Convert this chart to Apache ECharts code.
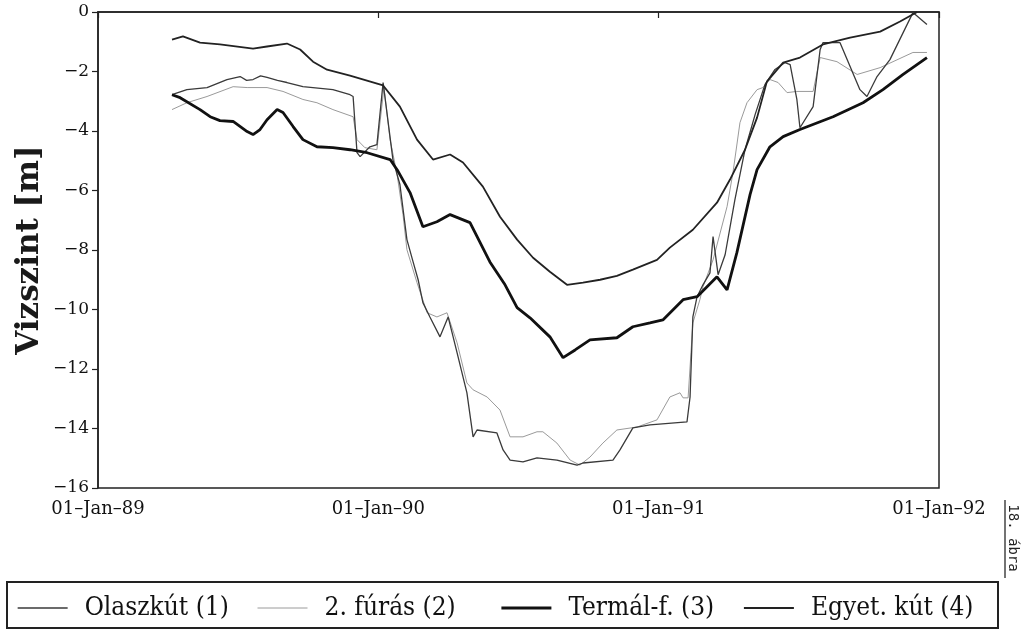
<!DOCTYPE html>
<html>
<head>
<meta charset="utf-8">
<script src="https://cdn.jsdelivr.net/npm/echarts@6/dist/echarts.min.js"></script>
<style>
  html, body { margin: 0; padding: 0; background: #fff; }
  #chart { width: 1028px; height: 641px; }
</style>
</head>
<body>
<div id="chart"></div>
<script>
// Water level records: [decimal year, level (m)]
const olaszkut = [
  [1989.264,-2.78],[1989.317,-2.61],[1989.389,-2.54],[1989.460,-2.27],[1989.507,-2.17],[1989.530,-2.30],
  [1989.553,-2.27],[1989.580,-2.15],[1989.603,-2.20],[1989.640,-2.30],[1989.674,-2.37],[1989.731,-2.51],
  [1989.838,-2.61],[1989.899,-2.78],[1989.910,-2.84],
  [1989.924,-4.73],[1989.935,-4.86],[1989.970,-4.53],[1989.995,-4.46],[1990.017,-2.37],[1990.052,-4.96],
  [1990.077,-5.80],[1990.102,-7.65],[1990.124,-8.40],[1990.142,-9.00],[1990.159,-9.77],[1990.184,-10.25],
  [1990.220,-10.92],[1990.249,-10.25],[1990.281,-11.46],[1990.316,-12.80],[1990.338,-14.28],[1990.352,-14.05],
  [1990.423,-14.15],[1990.445,-14.72],[1990.470,-15.06],[1990.516,-15.12],[1990.566,-14.99],[1990.637,-15.06],
  [1990.709,-15.23],[1990.730,-15.16],[1990.837,-15.06],[1990.862,-14.72],[1990.908,-13.98],[1990.969,-13.88],
  [1991.101,-13.78],[1991.112,-12.94],[1991.122,-10.25],[1991.137,-9.57],[1991.158,-9.17],[1991.183,-8.77],
  [1991.194,-7.55],[1991.212,-8.83],[1991.237,-8.16],[1991.272,-6.31],[1991.308,-4.63],[1991.344,-3.45],
  [1991.379,-2.44],[1991.415,-1.93],[1991.451,-1.70],[1991.469,-1.77],[1991.493,-2.94],[1991.504,-3.89],
  [1991.551,-3.18],[1991.576,-1.26],[1991.586,-1.03],[1991.647,-1.03],[1991.718,-2.61],[1991.743,-2.84],
  [1991.779,-2.17],[1991.825,-1.60],[1991.907,-0.02],[1991.957,-0.42]
];

const furas2 = [
  [1989.264,-3.28],[1989.317,-3.05],[1989.389,-2.84],[1989.482,-2.51],[1989.532,-2.54],[1989.603,-2.54],
  [1989.660,-2.67],[1989.731,-2.94],[1989.781,-3.05],[1989.838,-3.28],[1989.910,-3.52],[1989.924,-4.29],
  [1989.952,-4.56],[1989.995,-4.63],[1990.020,-2.54],[1990.042,-4.29],[1990.067,-5.47],[1990.088,-6.81],
  [1990.102,-7.99],[1990.138,-9.10],[1990.174,-10.11],[1990.209,-10.25],[1990.245,-10.11],[1990.281,-11.12],
  [1990.316,-12.47],[1990.338,-12.70],[1990.388,-12.94],[1990.434,-13.38],[1990.470,-14.28],[1990.516,-14.28],
  [1990.566,-14.11],[1990.587,-14.11],[1990.637,-14.49],[1990.684,-15.06],[1990.719,-15.23],[1990.755,-14.96],
  [1990.801,-14.49],[1990.851,-14.05],[1990.923,-13.95],[1990.994,-13.71],[1991.040,-12.94],[1991.076,-12.80],
  [1991.087,-12.97],[1991.105,-12.97],[1991.122,-10.45],[1991.147,-9.67],[1991.158,-9.24],[1991.194,-8.33],
  [1991.244,-6.54],[1991.265,-5.40],[1991.290,-3.72],[1991.315,-3.05],[1991.351,-2.61],[1991.372,-2.54],
  [1991.397,-2.27],[1991.426,-2.37],[1991.458,-2.71],[1991.493,-2.67],[1991.551,-2.67],[1991.576,-1.53],
  [1991.636,-1.67],[1991.708,-2.10],[1991.790,-1.87],[1991.907,-1.36],[1991.957,-1.36]
];

const termal = [
  [1989.264,-2.78],[1989.293,-2.88],[1989.364,-3.28],[1989.400,-3.52],[1989.435,-3.65],[1989.482,-3.68],
  [1989.532,-4.02],[1989.553,-4.12],[1989.578,-3.95],[1989.603,-3.62],[1989.639,-3.28],[1989.660,-3.38],
  [1989.696,-3.85],[1989.731,-4.29],[1989.781,-4.53],[1989.838,-4.56],[1989.899,-4.63],[1989.960,-4.73],
  [1990.042,-4.96],[1990.067,-5.30],[1990.113,-6.07],[1990.159,-7.22],[1990.209,-7.05],[1990.256,-6.81],
  [1990.327,-7.08],[1990.398,-8.40],[1990.452,-9.17],[1990.495,-9.94],[1990.541,-10.28],[1990.612,-10.92],
  [1990.659,-11.62],[1990.702,-11.36],[1990.755,-11.02],[1990.851,-10.95],[1990.908,-10.58],[1990.969,-10.45],
  [1991.015,-10.35],[1991.087,-9.67],[1991.137,-9.57],[1991.208,-8.90],[1991.244,-9.34],[1991.279,-8.09],
  [1991.326,-6.14],[1991.351,-5.30],[1991.397,-4.53],[1991.444,-4.19],[1991.504,-3.95],[1991.622,-3.52],
  [1991.729,-3.05],[1991.800,-2.61],[1991.872,-2.10],[1991.957,-1.53]
];

const egyetKut = [
  [1989.264,-0.93],[1989.303,-0.82],[1989.364,-1.03],[1989.435,-1.09],[1989.553,-1.23],[1989.603,-1.16],
  [1989.674,-1.06],[1989.721,-1.26],[1989.767,-1.67],[1989.817,-1.94],[1989.899,-2.14],[1990.017,-2.47],
  [1990.077,-3.18],[1990.138,-4.29],[1990.195,-4.96],[1990.256,-4.79],[1990.302,-5.06],[1990.373,-5.87],
  [1990.434,-6.88],[1990.495,-7.65],[1990.552,-8.26],[1990.612,-8.73],[1990.673,-9.17],[1990.730,-9.10],
  [1990.791,-9.00],[1990.851,-8.87],[1990.908,-8.66],[1990.994,-8.33],[1991.040,-7.92],[1991.122,-7.32],
  [1991.208,-6.41],[1991.254,-5.64],[1991.308,-4.63],[1991.351,-3.55],[1991.386,-2.34],[1991.444,-1.70],
  [1991.504,-1.53],[1991.586,-1.09],[1991.683,-0.86],[1991.790,-0.66],[1991.861,-0.32],[1991.922,0.00]
];

const yearTicks = [1989, 1990, 1991, 1992];
const yearLabels = ['01–Jan–89', '01–Jan–90', '01–Jan–91', '01–Jan–92'];
const seriesNames = ['Olaszkút (1)', '2. fúrás (2)', 'Termál-f. (3)', 'Egyet. kút (4)'];
const seriesData = [olaszkut, furas2, termal, egyetKut];

const lineColors = ['#3a3a3a', '#9a9a9a', '#111111', '#222222'];
const lineWidths = [1.3, 1.0, 2.8, 1.8];
const legendLefts = [17, 257, 500, 743];

const chart = echarts.init(document.getElementById('chart'), null, { renderer: 'canvas' });

const axisFont = "'DejaVu Serif', 'Liberation Serif', serif";
const legendFont = "'DejaVu Serif Condensed', 'Liberation Serif', serif";

chart.setOption({
  animation: false,
  backgroundColor: '#ffffff',
  grid: {
    left: 98, right: 89, top: 12, bottom: 153,
    show: true, borderColor: '#222', borderWidth: 1.5, backgroundColor: 'transparent'
  },
  xAxis: {
    type: 'value',
    min: 1989, max: 1992, interval: 1,
    axisLine: { show: true, lineStyle: { color: '#222', width: 1.5 } },
    axisTick: { show: true, length: 6, lineStyle: { color: '#222', width: 1.2 } },
    splitLine: { show: false },
    axisLabel: {
      margin: 12,
      fontFamily: axisFont, fontSize: 18, color: '#111',
      formatter: v => yearLabels[yearTicks.indexOf(Math.round(v))] || ''
    }
  },
  yAxis: {
    type: 'value',
    min: -16, max: 0, interval: 2,
    axisLine: { show: true, lineStyle: { color: '#222', width: 1.5 } },
    axisTick: { show: true, length: 6, lineStyle: { color: '#222', width: 1.2 } },
    splitLine: { show: false },
    axisLabel: {
      margin: 9,
      fontFamily: axisFont, fontSize: 17, color: '#111',
      formatter: v => String(v).replace('-', '\u2212')
    }
  },
  legend: seriesNames.map((name, i) => ({
    data: [name],
    left: legendLefts[i], top: 595,
    padding: 0,
    itemWidth: 50, itemHeight: 14,
    // hide the point marker so each key shows only its line
    itemStyle: { opacity: 0 },
    lineStyle: { color: lineColors[i], width: lineWidths[i] },
    textStyle: { fontFamily: legendFont, fontSize: 26, color: '#111', padding: [0, 0, 0, 12] }
  })),
  graphic: [
    {
      type: 'text',
      x: 30, y: 250, rotation: Math.PI / 2,
      style: {
        text: 'Vizszint [m]', fill: '#1a1a1a',
        font: "bold 31px 'DejaVu Serif', serif",
        textAlign: 'center', textVerticalAlign: 'middle'
      }
    },
    {
      type: 'rect',
      shape: { x: 7, y: 582, width: 991, height: 46 },
      style: { fill: 'none', stroke: '#222', lineWidth: 2 }
    },
    {
      type: 'text',
      x: 1013, y: 538, rotation: -Math.PI / 2,
      style: {
        text: '18. ábra', fill: '#222',
        font: "14px 'DejaVu Sans Mono', monospace",
        textAlign: 'center', textVerticalAlign: 'middle'
      }
    },
    {
      type: 'line',
      shape: { x1: 1005, y1: 500, x2: 1005, y2: 578 },
      style: { stroke: '#444', lineWidth: 1.5 }
    }
  ],
  series: seriesNames.map((name, i) => ({
    name,
    type: 'line',
    data: seriesData[i],
    symbol: 'none',
    smooth: false,
    lineStyle: { color: lineColors[i], width: lineWidths[i] },
    itemStyle: { color: lineColors[i] },
    z: [2, 1, 4, 3][i]
  }))
});
</script>
</body>
</html>
